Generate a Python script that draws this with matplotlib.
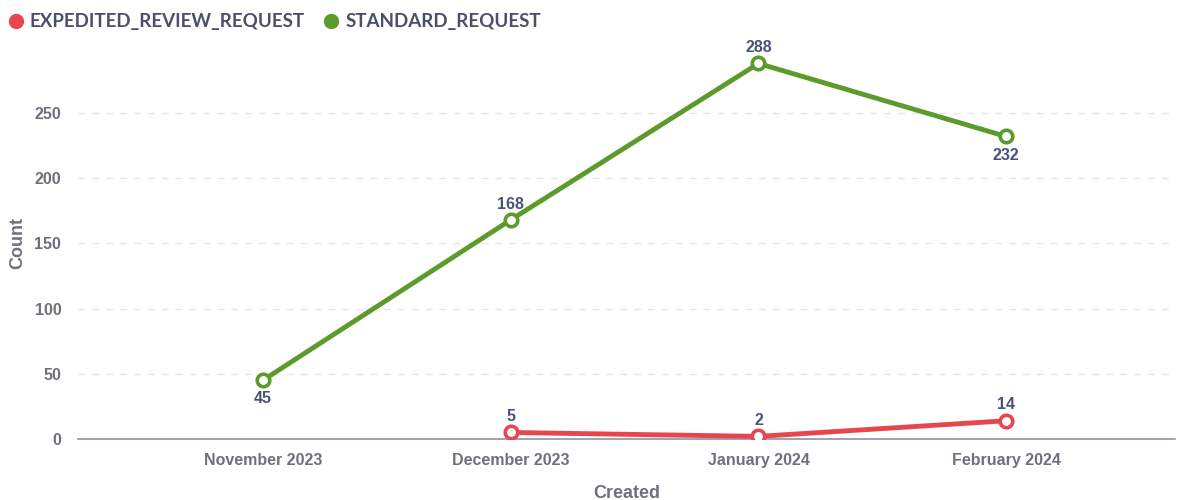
import matplotlib
matplotlib.use("Agg")
import matplotlib.pyplot as plt
from matplotlib.lines import Line2D

months = ["November 2023", "December 2023", "January 2024", "February 2024"]
standard_idx = [0, 1, 2, 3]
standard_vals = [45, 168, 288, 232]
standard_pos = ["below", "above", "above", "below"]
expedited_idx = [1, 2, 3]
expedited_vals = [5, 2, 14]
expedited_pos = ["above", "above", "above"]
yticks = [0, 50, 100, 150, 200, 250]

RED = "#e8464e"
GREEN = "#5d9a2c"
LABEL = "#4b5476"
TICK = "#6e717b"

fig = plt.figure(figsize=(11.89, 5.0), dpi=100)
ax = fig.add_axes([0.0656, 0.122, 0.9224, 0.798])

def draw(idx, vals, pos, color):
    ax.plot(idx, vals, color=color, lw=3.5, marker="o", ms=9, mfc="white",
            mec=color, mew=2.6, zorder=3, solid_capstyle="round")
    for x, v, p in zip(idx, vals, pos):
        off = 6 if p == "above" else -8
        ax.annotate(str(v), (x, v), xytext=(0, off), textcoords="offset points",
                    ha="center", va="bottom" if p == "above" else "top",
                    fontsize=11.5, fontweight="bold", color=LABEL,
                    family="Liberation Sans")

draw(standard_idx, standard_vals, standard_pos, GREEN)
draw(expedited_idx, expedited_vals, expedited_pos, RED)

ax.set_xlim(-0.746, 3.68)
ax.set_ylim(0, 306)
ax.set_yticks(yticks)
ax.set_xticks(range(len(months)))
ax.set_xticklabels(months)
for lbl in ax.get_xticklabels() + ax.get_yticklabels():
    lbl.set_fontsize(11.5)
    lbl.set_fontweight("bold")
    lbl.set_color(TICK)
    lbl.set_family("Liberation Sans")
ax.tick_params(axis="x", length=0, pad=10)
ax.tick_params(axis="y", length=0, pad=12)
ax.grid(axis="y", color="#e6e7eb", ls=(0, (5, 5)), lw=1)
for t in ax.get_ygridlines()[:1]:
    t.set_visible(False)
ax.set_axisbelow(True)
for s in ["top", "right", "left"]:
    ax.spines[s].set_visible(False)
ax.spines["bottom"].set_color("#8d92a2")
ax.spines["bottom"].set_linewidth(1.2)

ax.set_ylabel("Count", fontsize=13, fontweight="bold", color=TICK,
              family="Liberation Sans")
ax.yaxis.set_label_coords(-0.047, 0.49)
ax.set_xlabel("Created", fontsize=13, fontweight="bold", color=TICK,
              family="Liberation Sans", labelpad=12)

handles = [Line2D([], [], ls="", marker="o", ms=10, color=RED),
           Line2D([], [], ls="", marker="o", ms=10, color=GREEN)]
fig.legend(handles, ["EXPEDITED_REVIEW_REQUEST", "STANDARD_REQUEST"],
           loc="upper left", bbox_to_anchor=(-0.004, 1.0), ncol=2, frameon=False,
           handletextpad=0.35, columnspacing=1.0, handlelength=0.8,
           prop={"family": "Lato", "weight": "bold", "size": 13.5},
           labelcolor="#4a5068", borderaxespad=0.3)

fig.savefig("out.png", dpi=100)
